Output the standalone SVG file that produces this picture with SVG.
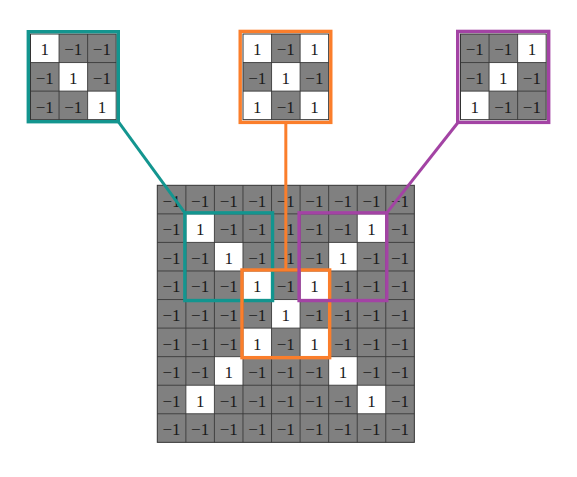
<svg xmlns="http://www.w3.org/2000/svg" width="577" height="477" viewBox="0 0 577 477">
<style>
.bg{fill:#808080}
.w{fill:#ffffff}
.gl{fill:none;stroke:#3a3a3a;stroke-width:0.9}
.ob{fill:none;stroke:#333333;stroke-width:1}
text{font-family:"Liberation Serif","DejaVu Serif",serif;font-size:17px;fill:#1a1a1a;text-anchor:middle}
.teal{stroke:#13958f}
.orange{stroke:#fb7e2b}
.purple{stroke:#a343a4}
.frame{fill:none;stroke-width:3.4}
.conn{fill:none;stroke-width:3}
</style>
<defs>
<path id="g3" d="M28.56 0V85.68M57.12 0V85.68M0 28.56H85.68M0 57.12H85.68"/>
<path id="g9" d="M28.56 0V257.04M57.12 0V257.04M85.68 0V257.04M114.24 0V257.04M142.8 0V257.04M171.36 0V257.04M199.92 0V257.04M228.48 0V257.04M0 28.56H257.04M0 57.12H257.04M0 85.68H257.04M0 114.24H257.04M0 142.8H257.04M0 171.36H257.04M0 199.92H257.04M0 228.48H257.04"/>
<g id="rowm">
<text x="14.28">−1</text><text x="42.84">−1</text><text x="71.4">−1</text><text x="99.96">−1</text><text x="128.52">−1</text><text x="157.08">−1</text><text x="185.64">−1</text><text x="214.2">−1</text><text x="242.76">−1</text>
</g>
</defs>

<!-- main input grid -->
<g id="input-grid" transform="translate(157.3,185.3)">
<rect class="bg" x="0" y="0" width="257.04" height="257.04"/>
<rect class="w" x="28.56" y="28.56" width="28.56" height="28.56"/>
<rect class="w" x="199.92" y="28.56" width="28.56" height="28.56"/>
<rect class="w" x="57.12" y="57.12" width="28.56" height="28.56"/>
<rect class="w" x="171.36" y="57.12" width="28.56" height="28.56"/>
<rect class="w" x="85.68" y="85.68" width="28.56" height="28.56"/>
<rect class="w" x="142.8" y="85.68" width="28.56" height="28.56"/>
<rect class="w" x="114.24" y="114.24" width="28.56" height="28.56"/>
<rect class="w" x="85.68" y="142.8" width="28.56" height="28.56"/>
<rect class="w" x="142.8" y="142.8" width="28.56" height="28.56"/>
<rect class="w" x="57.12" y="171.36" width="28.56" height="28.56"/>
<rect class="w" x="171.36" y="171.36" width="28.56" height="28.56"/>
<rect class="w" x="28.56" y="199.92" width="28.56" height="28.56"/>
<rect class="w" x="199.92" y="199.92" width="28.56" height="28.56"/>
<use href="#g9" class="gl"/>
<rect class="ob" x="0" y="0" width="257.04" height="257.04"/>
<use href="#rowm" y="21.4"/>
<g transform="translate(0,49.96)"><text x="14.28">−1</text><text x="42.84">1</text><text x="71.4">−1</text><text x="99.96">−1</text><text x="128.52">−1</text><text x="157.08">−1</text><text x="185.64">−1</text><text x="214.2">1</text><text x="242.76">−1</text></g>
<g transform="translate(0,78.52)"><text x="14.28">−1</text><text x="42.84">−1</text><text x="71.4">1</text><text x="99.96">−1</text><text x="128.52">−1</text><text x="157.08">−1</text><text x="185.64">1</text><text x="214.2">−1</text><text x="242.76">−1</text></g>
<g transform="translate(0,107.08)"><text x="14.28">−1</text><text x="42.84">−1</text><text x="71.4">−1</text><text x="99.96">1</text><text x="128.52">−1</text><text x="157.08">1</text><text x="185.64">−1</text><text x="214.2">−1</text><text x="242.76">−1</text></g>
<g transform="translate(0,135.64)"><text x="14.28">−1</text><text x="42.84">−1</text><text x="71.4">−1</text><text x="99.96">−1</text><text x="128.52">1</text><text x="157.08">−1</text><text x="185.64">−1</text><text x="214.2">−1</text><text x="242.76">−1</text></g>
<g transform="translate(0,164.2)"><text x="14.28">−1</text><text x="42.84">−1</text><text x="71.4">−1</text><text x="99.96">1</text><text x="128.52">−1</text><text x="157.08">1</text><text x="185.64">−1</text><text x="214.2">−1</text><text x="242.76">−1</text></g>
<g transform="translate(0,192.76)"><text x="14.28">−1</text><text x="42.84">−1</text><text x="71.4">1</text><text x="99.96">−1</text><text x="128.52">−1</text><text x="157.08">−1</text><text x="185.64">1</text><text x="214.2">−1</text><text x="242.76">−1</text></g>
<g transform="translate(0,221.32)"><text x="14.28">−1</text><text x="42.84">1</text><text x="71.4">−1</text><text x="99.96">−1</text><text x="128.52">−1</text><text x="157.08">−1</text><text x="185.64">−1</text><text x="214.2">1</text><text x="242.76">−1</text></g>
<use href="#rowm" y="249.88"/>
</g>

<!-- connectors -->
<g id="connectors">
<line class="conn teal" x1="118.3" y1="121.7" x2="184.86" y2="212.86"/>
<line class="conn orange" x1="285.82" y1="122.3" x2="285.82" y2="270"/>
<line class="conn purple" x1="458" y1="122.5" x2="386.78" y2="212.86"/>
</g>

<!-- highlight boxes on input -->
<g id="box-teal" transform="translate(157.3,185.3)"><rect class="frame teal" x="27.56" y="27.56" width="87.68" height="87.68"/></g>
<g id="box-orange" transform="translate(157.3,185.3)"><rect class="frame orange" x="84.68" y="84.68" width="87.68" height="87.68"/></g>
<g id="box-purple" transform="translate(157.3,185.3)"><rect class="frame purple" x="141.8" y="27.56" width="87.68" height="87.68"/></g>

<!-- kernel teal -->
<g id="kernel-teal" transform="translate(30.5,34)">
<rect class="bg" x="0" y="0" width="85.68" height="85.68"/>
<rect class="w" x="0" y="0" width="28.56" height="28.56"/>
<rect class="w" x="28.56" y="28.56" width="28.56" height="28.56"/>
<rect class="w" x="57.12" y="57.12" width="28.56" height="28.56"/>
<use href="#g3" class="gl"/>
<rect class="ob" x="0" y="0" width="85.68" height="85.68"/>
<text x="14.28" y="21.4">1</text><text x="42.84" y="21.4">−1</text><text x="71.4" y="21.4">−1</text>
<text x="14.28" y="49.96">−1</text><text x="42.84" y="49.96">1</text><text x="71.4" y="49.96">−1</text>
<text x="14.28" y="78.52">−1</text><text x="42.84" y="78.52">−1</text><text x="71.4" y="78.52">1</text>
<rect class="frame teal" x="-2.2" y="-2.3" width="90" height="90"/>
</g>

<!-- kernel orange -->
<g id="kernel-orange" transform="translate(243,34)">
<rect class="bg" x="0" y="0" width="85.68" height="85.68"/>
<rect class="w" x="0" y="0" width="28.56" height="28.56"/>
<rect class="w" x="57.12" y="0" width="28.56" height="28.56"/>
<rect class="w" x="28.56" y="28.56" width="28.56" height="28.56"/>
<rect class="w" x="0" y="57.12" width="28.56" height="28.56"/>
<rect class="w" x="57.12" y="57.12" width="28.56" height="28.56"/>
<use href="#g3" class="gl"/>
<rect class="ob" x="0" y="0" width="85.68" height="85.68"/>
<text x="14.28" y="21.4">1</text><text x="42.84" y="21.4">−1</text><text x="71.4" y="21.4">1</text>
<text x="14.28" y="49.96">−1</text><text x="42.84" y="49.96">1</text><text x="71.4" y="49.96">−1</text>
<text x="14.28" y="78.52">1</text><text x="42.84" y="78.52">−1</text><text x="71.4" y="78.52">1</text>
<rect class="frame orange" x="-2.8" y="-2.6" width="90.6" height="91"/>
</g>

<!-- kernel purple -->
<g id="kernel-purple" transform="translate(460.5,34)">
<rect class="bg" x="0" y="0" width="85.68" height="85.68"/>
<rect class="w" x="57.12" y="0" width="28.56" height="28.56"/>
<rect class="w" x="28.56" y="28.56" width="28.56" height="28.56"/>
<rect class="w" x="0" y="57.12" width="28.56" height="28.56"/>
<use href="#g3" class="gl"/>
<rect class="ob" x="0" y="0" width="85.68" height="85.68"/>
<text x="14.28" y="21.4">−1</text><text x="42.84" y="21.4">−1</text><text x="71.4" y="21.4">1</text>
<text x="14.28" y="49.96">−1</text><text x="42.84" y="49.96">1</text><text x="71.4" y="49.96">−1</text>
<text x="14.28" y="78.52">1</text><text x="42.84" y="78.52">−1</text><text x="71.4" y="78.52">−1</text>
<rect class="frame purple" x="-2.8" y="-2.6" width="91" height="91"/>
</g>
</svg>
